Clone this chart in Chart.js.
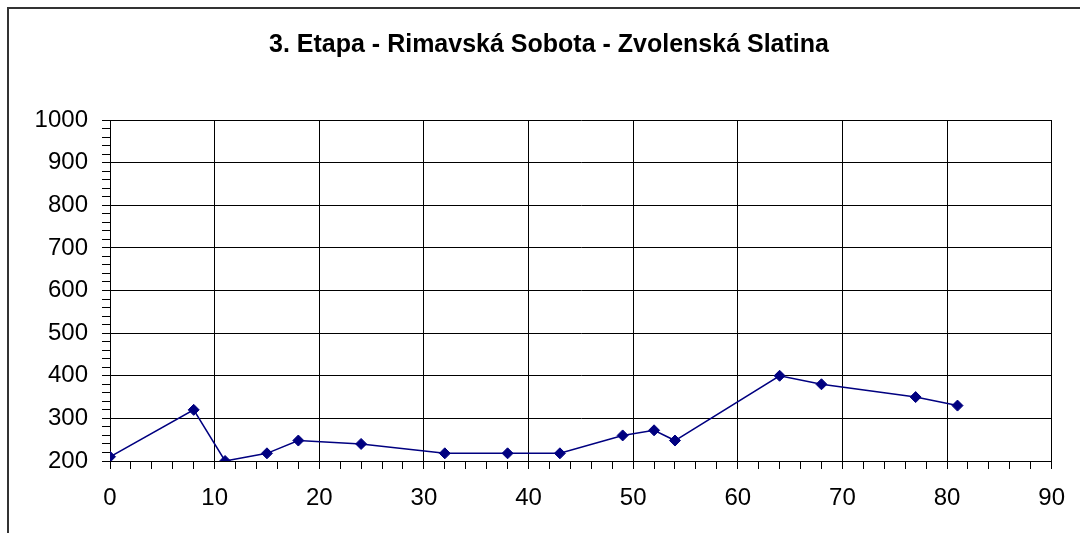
<!DOCTYPE html>
<html>
<head>
<meta charset="utf-8">
<script src="https://cdn.jsdelivr.net/npm/chart.js@4/dist/chart.umd.min.js"></script>
<style>
  html, body { margin: 0; padding: 0; background: #fff; }
  #wrap { position: relative; width: 1080px; height: 533px; }
</style>
</head>
<body>
<div id="wrap"><canvas id="c" width="1080" height="533"></canvas></div>
<script>
const chartTitle = "3. Etapa - Rimavská Sobota - Zvolenská Slatina";
const distanceKm = [0, 8, 11, 15, 18, 24, 32, 38, 43, 49, 52, 54, 64, 68, 77, 81];
const altitudeM = [210, 320, 200, 218, 248, 240, 218, 218, 218, 260, 272, 248, 400, 380, 350, 330];
const xTickRange = [0, 90];
const yTickRange = [200, 1000];

const points = distanceKm.map((x, i) => ({ x: x, y: altitudeM[i] }));

const framePlugin = {
  id: 'frame',
  beforeDraw(chart) {
    const ctx = chart.ctx;
    ctx.save();
    ctx.fillStyle = '#fff';
    ctx.fillRect(0, 0, chart.width, chart.height);
    ctx.strokeStyle = '#333';
    ctx.lineWidth = 2;
    ctx.beginPath();
    ctx.moveTo(8, chart.height + 2);
    ctx.lineTo(8, 8);
    ctx.lineTo(chart.width + 2, 8);
    ctx.stroke();
    ctx.restore();
  }
};

const tickFont = { family: "'Liberation Sans', Arial, sans-serif", size: 24 };

new Chart(document.getElementById('c'), {
  type: 'line',
  data: {
    datasets: [{
      data: points,
      xAxisID: 'x',
      yAxisID: 'y',
      borderColor: '#000080',
      backgroundColor: '#000080',
      borderWidth: 1.5,
      pointStyle: 'rectRot',
      pointRadius: 5.5,
      pointBorderWidth: 1,
      pointBorderColor: '#000080',
      pointBackgroundColor: '#000080',
      tension: 0,
      fill: false
    }]
  },
  options: {
    responsive: false,
    animation: false,
    layout: { padding: { left: 18, right: 0, top: 0, bottom: 0 } },
    plugins: {
      legend: { display: false },
      tooltip: { enabled: false },
      title: {
        display: true,
        text: chartTitle,
        color: '#000',
        font: { family: "'Liberation Sans', Arial, sans-serif", size: 25, weight: 'bold' },
        padding: { top: 30, bottom: 60 }
      }
    },
    scales: {
      x: {
        type: 'linear',
        min: xTickRange[0],
        max: xTickRange[1],
        afterFit(scale) { scale.height = 72; },
        ticks: {
          stepSize: 2,
          autoSkip: false,
          maxRotation: 0,
          color: '#000',
          font: tickFont,
          padding: 15,
          callback: v => (v % 10 === 0 ? String(v) : '')
        },
        grid: {
          color: ctx => (ctx.tick && ctx.tick.value % 10 === 0 ? '#000' : 'rgba(0,0,0,0)'),
          tickColor: '#000',
          tickLength: 8,
          lineWidth: 1
        },
        border: { color: '#000', width: 1 }
      },
      y: {
        position: 'left',
        min: yTickRange[0],
        max: yTickRange[1],
        afterFit(scale) { scale.width = 92; },
        ticks: {
          stepSize: 20,
          autoSkip: false,
          color: '#000',
          font: tickFont,
          padding: 14,
          callback: v => (v % 100 === 0 ? String(v) : '')
        },
        grid: {
          color: ctx => (ctx.tick && ctx.tick.value % 100 === 0 ? '#000' : 'rgba(0,0,0,0)'),
          tickColor: '#000',
          tickLength: 8,
          lineWidth: 1
        },
        border: { color: '#000', width: 1 }
      },
      yRightSpace: {
        type: 'linear',
        position: 'right',
        display: true,
        afterFit(scale) { scale.width = 28; },
        ticks: { display: false },
        grid: { display: false, drawTicks: false },
        border: { display: false }
      }
    }
  },
  plugins: [framePlugin]
});
</script>
</body>
</html>
